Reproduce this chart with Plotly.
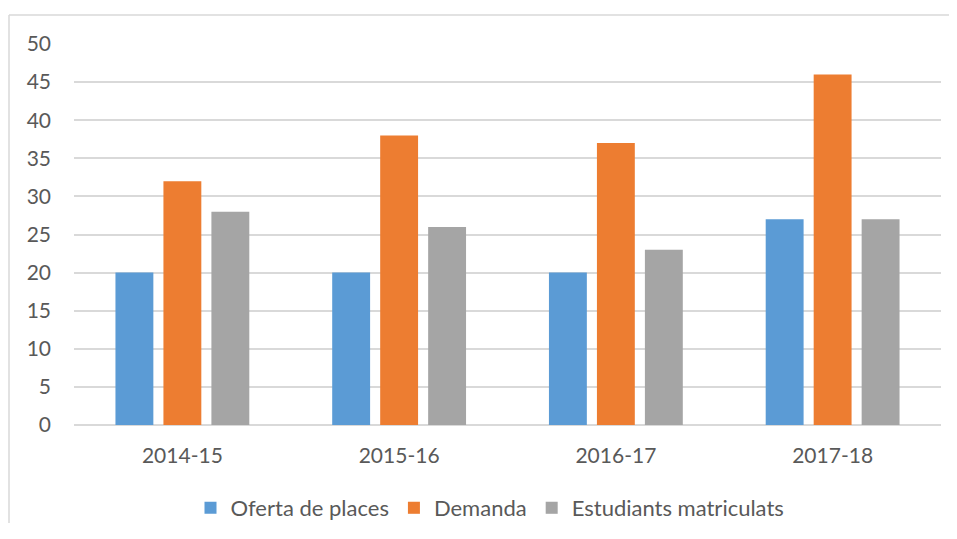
import plotly.graph_objects as go

categories = ["2014-15", "2015-16", "2016-17", "2017-18"]
oferta = [20, 20, 20, 27]
demanda = [32, 38, 37, 46]
matriculats = [28, 26, 23, 27]
series_names = ["Oferta de places", "Demanda", "Estudiants matriculats"]
colors = ["#5B9BD5", "#ED7D31", "#A5A5A5"]

fig = go.Figure()
for name, vals, col in zip(series_names, [oferta, demanda, matriculats], colors):
    fig.add_trace(go.Bar(x=categories, y=vals, name=name, marker_color=col,
                         marker_line_width=0))

font_family = "Lato, 'Open Sans', sans-serif"
OFF = 8  # page body margin
W, H = 957 - 2 * OFF, 539 - 2 * OFF - 8
L, R, T = 74 - OFF, 16 - OFF, 44 - OFF
pw, ph = 867, 381
B = H - T - ph
# screen coordinate helpers (reference pixel -> paper)
def px(x):
    return (x - 74) / pw
def py(y):
    return (425 - y) / ph

border = dict(color="#D9D9D9", width=1.5)
fig.update_layout(
    width=W, height=H,
    margin=dict(l=L, r=R, t=T, b=B, autoexpand=False),
    paper_bgcolor="white", plot_bgcolor="white",
    barmode="group", bargap=0.336, bargroupgap=0.21,
    font=dict(family=font_family, size=21, color="#595959"),
    showlegend=True,
    legend=dict(orientation="h", x=px(490), xanchor="center",
                y=py(508), yanchor="middle",
                font=dict(size=22, color="#595959"),
                traceorder="normal"),
    xaxis=dict(showgrid=False, showline=False, ticks="", ticklabelstandoff=16,
               automargin=False, tickfont=dict(size=21, color="#595959")),
    yaxis=dict(range=[0, 50], dtick=5, showgrid=True, gridcolor="#D9D9D9",
               gridwidth=1.5, zeroline=True, zerolinecolor="#D9D9D9",
               zerolinewidth=1.5, showline=False, ticks="", automargin=False,
               ticklabelstandoff=22, tickfont=dict(size=21, color="#595959")),
    shapes=[
        dict(type="line", xref="paper", yref="paper",
             x0=px(9), x1=px(990), y0=py(15), y1=py(15), line=border, layer="below"),
        dict(type="line", xref="paper", yref="paper",
             x0=px(9), x1=px(9), y0=py(15), y1=py(620), line=border, layer="below"),
    ],
)

fig.write_html("out.html")
